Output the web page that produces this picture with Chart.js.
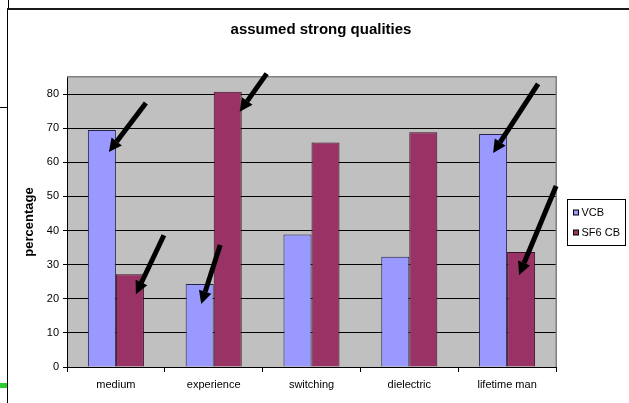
<!DOCTYPE html>
<html>
<head>
<meta charset="utf-8">
<script src="https://cdn.jsdelivr.net/npm/chart.js@4.4.1/dist/chart.umd.min.js"></script>
<style>
  html, body { margin: 0; padding: 0; background: #fff; overflow: hidden; }
  #wrap { position: relative; width: 629px; height: 403px; }
  #wrap canvas { position: absolute; left: 0; top: 0; }
  .ln { position: absolute; background: #000; }
</style>
</head>
<body>
<div id="wrap">
  <canvas id="c" width="629" height="403"></canvas>
  <!-- page frame around the chart object -->
  <div class="ln" style="left:7px;top:9px;width:1px;height:394px"></div>
  <div class="ln" style="left:7px;top:8px;width:622px;height:2px;background:#1a1a1a"></div>
  <div class="ln" style="left:8px;top:0;width:1px;height:8px"></div>
  <div class="ln" style="left:0;top:107px;width:7px;height:1px"></div>
  <div class="ln" style="left:0;top:383px;width:7px;height:5px;background:#2ecc2e"></div>
</div>
<script>
// ---- data ----
const categories = ['medium', 'experience', 'switching', 'dielectric', 'lifetime man'];
const seriesNames = ['VCB', 'SF6 CB'];
const vcbValues = [69.5, 24.3, 38.8, 32.3, 68.3];
const sf6Values = [27.2, 80.7, 65.8, 68.8, 33.7];
const yMin = 0;
const yMax = 85;
const yStep = 10;
const chartTitle = 'assumed strong qualities';
const yAxisTitle = 'percentage';

// ---- styling ----
const FONT = "'Liberation Sans', Arial, sans-serif";
const seriesFill = ['#9999FF', '#993366'];
const seriesEdge = ['#22224a', '#3a0f22'];

// pointer arrows: tip offset from the top-centre of a bar, tail offset from the tip (px)
const pointers = [
  { series: 0, cat: 0, tip: [7, 22],  tail: [37, -49] },
  { series: 1, cat: 0, tip: [6, 20],  tail: [28, -59] },
  { series: 0, cat: 1, tip: [1.5, 20], tail: [19, -59] },
  { series: 1, cat: 1, tip: [12, 20], tail: [27, -38] },
  { series: 0, cat: 4, tip: [0, 19],  tail: [45, -69] },
  { series: 1, cat: 4, tip: [-2, 23], tail: [37, -89] }
];

Chart.defaults.font.family = FONT;
Chart.defaults.color = '#000';

const plotBackground = {
  id: 'plotBackground',
  beforeDraw(chart) {
    const { ctx, chartArea: a } = chart;
    ctx.save();
    ctx.fillStyle = '#C0C0C0';
    ctx.fillRect(a.left, a.top, a.right - a.left, a.bottom - a.top);
    ctx.restore();
  },
  beforeDatasetsDraw(chart) {
    const { ctx, chartArea: a } = chart;
    ctx.save();
    ctx.strokeStyle = '#808080';
    ctx.lineWidth = 1.5;
    ctx.beginPath();
    ctx.moveTo(a.left, a.top - 0.25);
    ctx.lineTo(a.right + 0.25, a.top - 0.25);
    ctx.lineTo(a.right + 0.25, a.bottom);
    ctx.stroke();
    ctx.restore();
  }
};

const titleAndLegend = {
  id: 'titleAndLegend',
  afterDraw(chart) {
    const { ctx } = chart;
    ctx.save();
    // title
    ctx.fillStyle = '#000';
    ctx.font = 'bold 15px ' + FONT;
    ctx.textAlign = 'center';
    ctx.textBaseline = 'middle';
    ctx.fillText(chartTitle, 321, 30);
    // legend box
    const bx = 567.5, by = 199.5, bw = 58, bh = 46;
    ctx.fillStyle = '#fff';
    ctx.fillRect(bx, by, bw, bh);
    ctx.strokeStyle = '#000';
    ctx.lineWidth = 1;
    ctx.strokeRect(bx, by, bw, bh);
    ctx.font = '11px ' + FONT;
    ctx.textAlign = 'left';
    chart.data.datasets.forEach((ds, i) => {
      const cy = by + 13.5 + i * 20;
      ctx.fillStyle = ds.backgroundColor;
      ctx.fillRect(bx + 6, cy - 3, 5, 5);
      ctx.strokeStyle = '#000';
      ctx.strokeRect(bx + 6, cy - 3, 5, 5);
      ctx.fillStyle = '#000';
      ctx.fillText(ds.label, bx + 14, cy);
    });
    ctx.restore();
  }
};

const pointerArrows = {
  id: 'pointerArrows',
  afterDatasetsDraw(chart) {
    const { ctx } = chart;
    ctx.save();
    ctx.fillStyle = '#000';
    ctx.strokeStyle = '#000';
    pointers.forEach(p => {
      const bar = chart.getDatasetMeta(p.series).data[p.cat];
      const tx = bar.x + p.tip[0], ty = bar.y + p.tip[1];
      const sx = tx + p.tail[0], sy = ty + p.tail[1];
      const ang = Math.atan2(ty - sy, tx - sx);
      const headLen = 13, headHalf = 6.5;
      const baseX = tx - headLen * Math.cos(ang), baseY = ty - headLen * Math.sin(ang);
      ctx.lineWidth = 5;
      ctx.beginPath();
      ctx.moveTo(sx, sy);
      ctx.lineTo(baseX, baseY);
      ctx.stroke();
      ctx.beginPath();
      ctx.moveTo(tx, ty);
      ctx.lineTo(baseX + headHalf * Math.sin(ang), baseY - headHalf * Math.cos(ang));
      ctx.lineTo(baseX - headHalf * Math.sin(ang), baseY + headHalf * Math.cos(ang));
      ctx.closePath();
      ctx.fill();
    });
    ctx.restore();
  }
};

const seriesValues = [vcbValues, sf6Values];

new Chart(document.getElementById('c'), {
  type: 'bar',
  data: {
    labels: categories,
    datasets: seriesNames.map((name, i) => ({
      label: name,
      data: seriesValues[i],
      backgroundColor: seriesFill[i],
      borderColor: seriesEdge[i],
      borderWidth: 1,
      borderSkipped: 'bottom',
      categoryPercentage: 0.573,
      barPercentage: 1
    }))
  },
  options: {
    responsive: false,
    animation: false,
    layout: { padding: { left: 8, right: 73, top: 77, bottom: 0 } },
    plugins: {
      legend: { display: false },
      title: { display: false },
      tooltip: { enabled: false }
    },
    scales: {
      x: {
        grid: { drawOnChartArea: false, color: '#000', tickLength: 5, offset: true },
        border: { color: '#000', width: 1 },
        ticks: { font: { size: 11 }, color: '#000', padding: 6, maxRotation: 0, autoSkip: false },
        afterFit(s) { s.height = 36; }
      },
      y: {
        min: yMin,
        max: yMax,
        ticks: { stepSize: yStep, includeBounds: false, font: { size: 11 }, color: '#000', padding: 4 },
        grid: { color: '#000', tickLength: 4 },
        border: { color: '#000', width: 1 },
        title: {
          display: true,
          text: yAxisTitle,
          font: { size: 13, weight: 'bold' },
          color: '#000',
          padding: { top: 14, bottom: 0 }
        },
        afterFit(s) { s.width = 59; }
      }
    }
  },
  plugins: [plotBackground, pointerArrows, titleAndLegend]
});
</script>
</body>
</html>
